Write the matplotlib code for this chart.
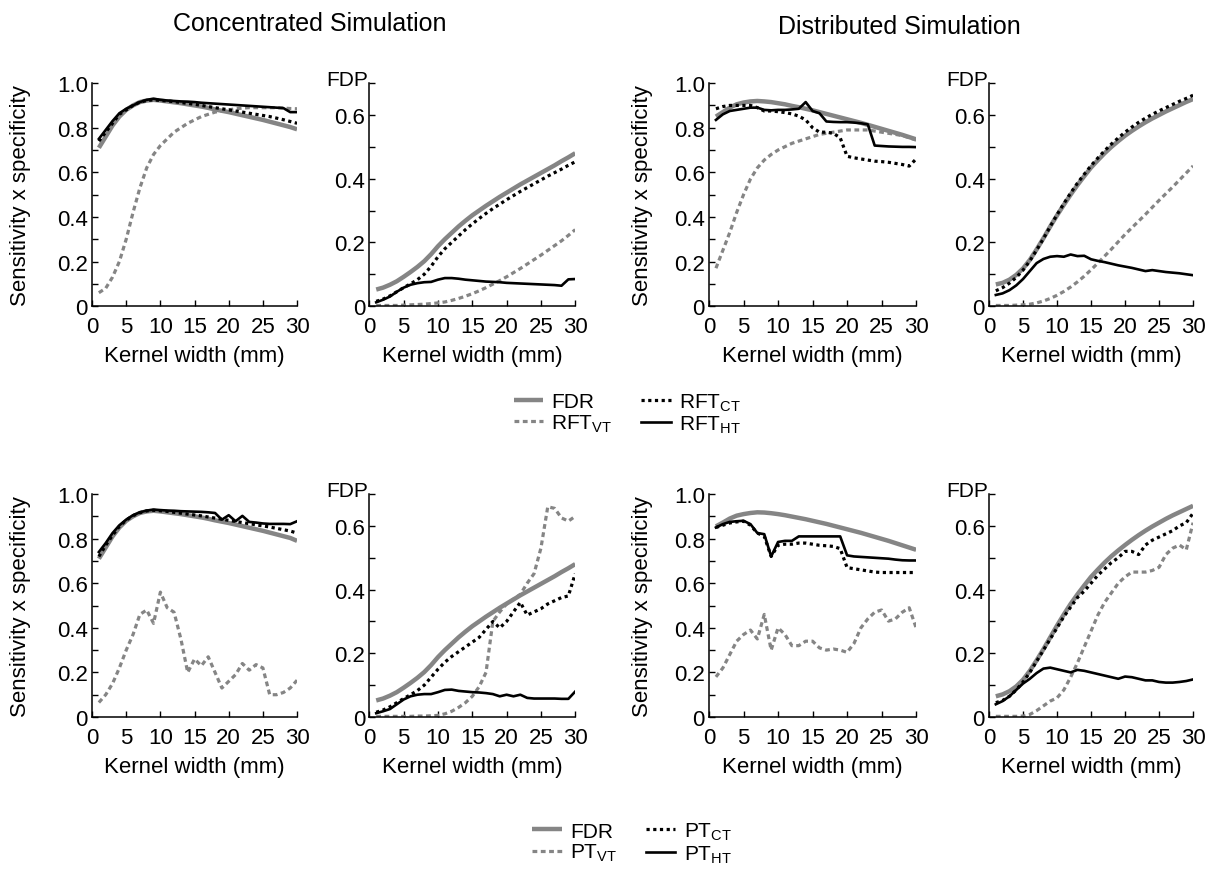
import matplotlib
matplotlib.use("Agg")
import matplotlib.pyplot as plt
from matplotlib.lines import Line2D
from matplotlib.ticker import MultipleLocator, FuncFormatter

plt.rcParams['font.family'] = ['Liberation Sans', 'DejaVu Sans']
plt.rcParams['mathtext.fontset'] = 'custom'
plt.rcParams['mathtext.rm'] = 'Liberation Sans'

# kernel widths (mm)
kernel = list(range(1, 31))

# --- Concentrated simulation, RFT thresholds ---
conc_rft_ss_fdr = [0.71, 0.76, 0.81, 0.85, 0.88, 0.90, 0.915, 0.922, 0.925, 0.922, 0.918, 0.914, 0.91, 0.905, 0.90,
                   0.895, 0.889, 0.882, 0.876, 0.87, 0.863, 0.856, 0.849, 0.842, 0.835, 0.827, 0.819, 0.811, 0.803, 0.793]
conc_rft_ss_vt = [0.06, 0.08, 0.13, 0.2, 0.3, 0.42, 0.53, 0.62, 0.68, 0.72, 0.75, 0.78, 0.80, 0.82, 0.835,
                  0.85, 0.86, 0.87, 0.875, 0.88, 0.885, 0.888, 0.89, 0.89, 0.89, 0.89, 0.89, 0.888, 0.886, 0.885]
conc_rft_ss_ct = [0.74, 0.78, 0.82, 0.86, 0.88, 0.90, 0.915, 0.922, 0.925, 0.922, 0.92, 0.917, 0.913, 0.909, 0.905,
                  0.90, 0.895, 0.89, 0.885, 0.88, 0.875, 0.87, 0.865, 0.86, 0.855, 0.85, 0.843, 0.836, 0.828, 0.82]
conc_rft_ss_ht = [0.75, 0.79, 0.83, 0.865, 0.885, 0.90, 0.915, 0.925, 0.93, 0.925, 0.922, 0.92, 0.918, 0.917, 0.915,
                  0.912, 0.91, 0.908, 0.906, 0.904, 0.902, 0.90, 0.898, 0.896, 0.894, 0.892, 0.89, 0.888, 0.87, 0.87]

conc_rft_fdp_fdr = [0.052, 0.058, 0.067, 0.078, 0.092, 0.107, 0.123, 0.141, 0.163, 0.188, 0.21, 0.23, 0.25, 0.268, 0.285,
                    0.30, 0.315, 0.329, 0.343, 0.356, 0.369, 0.382, 0.394, 0.406, 0.418, 0.43, 0.442, 0.455, 0.467, 0.48]
conc_rft_fdp_vt = [0.002, 0.002, 0.002, 0.002, 0.003, 0.004, 0.005, 0.006, 0.008, 0.01, 0.013, 0.018, 0.024, 0.031, 0.039,
                   0.048, 0.058, 0.069, 0.08, 0.092, 0.105, 0.118, 0.132, 0.146, 0.16, 0.175, 0.19, 0.205, 0.222, 0.24]
conc_rft_fdp_ct = [0.015, 0.022, 0.032, 0.045, 0.058, 0.07, 0.083, 0.1, 0.125, 0.155, 0.18, 0.2, 0.22, 0.24, 0.258,
                   0.275, 0.291, 0.306, 0.32, 0.334, 0.347, 0.36, 0.372, 0.384, 0.396, 0.408, 0.419, 0.43, 0.442, 0.453]
conc_rft_fdp_ht = [0.012, 0.02, 0.03, 0.045, 0.058, 0.067, 0.072, 0.075, 0.076, 0.083, 0.088, 0.088, 0.086, 0.083, 0.081,
                   0.079, 0.077, 0.076, 0.075, 0.073, 0.072, 0.071, 0.07, 0.069, 0.068, 0.067, 0.066, 0.064, 0.084, 0.085]

# --- Distributed simulation, RFT thresholds ---
dist_rft_ss_fdr = [0.85, 0.87, 0.89, 0.905, 0.913, 0.918, 0.92, 0.918, 0.915, 0.91, 0.905, 0.898, 0.892, 0.885, 0.878,
                   0.87, 0.862, 0.854, 0.846, 0.838, 0.83, 0.822, 0.813, 0.804, 0.795, 0.786, 0.777, 0.768, 0.758, 0.748]
dist_rft_ss_vt = [0.17, 0.25, 0.33, 0.42, 0.5, 0.57, 0.62, 0.655, 0.68, 0.70, 0.715, 0.73, 0.74, 0.75, 0.76,
                  0.77, 0.775, 0.78, 0.785, 0.79, 0.79, 0.79, 0.79, 0.785, 0.78, 0.775, 0.77, 0.765, 0.755, 0.745]
dist_rft_ss_ct = [0.885, 0.895, 0.9, 0.9, 0.9, 0.9, 0.89, 0.875, 0.875, 0.872, 0.868, 0.862, 0.852, 0.835, 0.8,
                  0.78, 0.78, 0.775, 0.755, 0.672, 0.665, 0.66, 0.655, 0.65, 0.648, 0.645, 0.64, 0.635, 0.628, 0.66]
dist_rft_ss_ht = [0.835, 0.86, 0.875, 0.88, 0.885, 0.89, 0.89, 0.88, 0.878, 0.88, 0.88, 0.882, 0.885, 0.915, 0.875,
                  0.865, 0.828, 0.826, 0.825, 0.825, 0.823, 0.82, 0.815, 0.72, 0.718, 0.716, 0.715, 0.714, 0.714, 0.713]

dist_rft_fdp_fdr = [0.068, 0.073, 0.083, 0.098, 0.118, 0.145, 0.178, 0.213, 0.25, 0.285, 0.318, 0.35, 0.38, 0.408, 0.435,
                    0.458, 0.48, 0.5, 0.518, 0.535, 0.55, 0.564, 0.577, 0.589, 0.6, 0.611, 0.621, 0.631, 0.641, 0.65]
dist_rft_fdp_vt = [0.002, 0.002, 0.002, 0.003, 0.004, 0.006, 0.01, 0.016, 0.024, 0.034, 0.046, 0.06, 0.076, 0.094, 0.114,
                   0.135, 0.157, 0.179, 0.202, 0.225, 0.246, 0.267, 0.288, 0.31, 0.332, 0.353, 0.374, 0.396, 0.418, 0.44]
dist_rft_fdp_ct = [0.048, 0.058, 0.072, 0.09, 0.113, 0.142, 0.176, 0.212, 0.25, 0.287, 0.322, 0.355, 0.386, 0.414, 0.441,
                   0.465, 0.488, 0.509, 0.528, 0.546, 0.562, 0.577, 0.59, 0.602, 0.613, 0.623, 0.633, 0.643, 0.652, 0.662]
dist_rft_fdp_ht = [0.035, 0.04, 0.05, 0.065, 0.085, 0.11, 0.135, 0.148, 0.155, 0.157, 0.155, 0.162, 0.157, 0.158, 0.147,
                   0.142, 0.138, 0.133, 0.128, 0.124, 0.12, 0.115, 0.11, 0.113, 0.11, 0.107, 0.105, 0.103, 0.1, 0.097]

# --- Concentrated simulation, PT thresholds ---
conc_pt_ss_fdr = [0.71, 0.76, 0.81, 0.85, 0.88, 0.90, 0.915, 0.922, 0.925, 0.922, 0.918, 0.914, 0.91, 0.905, 0.90,
                  0.895, 0.889, 0.882, 0.876, 0.87, 0.863, 0.856, 0.849, 0.842, 0.835, 0.827, 0.819, 0.811, 0.803, 0.79]
conc_pt_ss_vt = [0.065, 0.1, 0.15, 0.22, 0.3, 0.37, 0.46, 0.48, 0.42, 0.56, 0.49, 0.47, 0.35, 0.2, 0.26,
                 0.23, 0.27, 0.2, 0.13, 0.16, 0.19, 0.24, 0.21, 0.235, 0.22, 0.1, 0.1, 0.11, 0.13, 0.165]
conc_pt_ss_ct = [0.72, 0.77, 0.815, 0.855, 0.883, 0.903, 0.916, 0.924, 0.927, 0.925, 0.922, 0.918, 0.914, 0.91, 0.906,
                 0.902, 0.897, 0.892, 0.887, 0.882, 0.877, 0.872, 0.867, 0.862, 0.857, 0.852, 0.846, 0.84, 0.834, 0.825]
conc_pt_ss_ht = [0.74, 0.78, 0.825, 0.86, 0.885, 0.905, 0.918, 0.926, 0.93, 0.928, 0.926, 0.925, 0.923, 0.922, 0.921,
                 0.92, 0.918, 0.915, 0.885, 0.905, 0.878, 0.902, 0.875, 0.872, 0.868, 0.866, 0.866, 0.866, 0.865, 0.878]

conc_pt_fdp_fdr = [0.052, 0.058, 0.067, 0.078, 0.092, 0.107, 0.123, 0.141, 0.163, 0.188, 0.21, 0.23, 0.25, 0.268, 0.285,
                   0.30, 0.315, 0.329, 0.343, 0.356, 0.369, 0.382, 0.394, 0.406, 0.418, 0.43, 0.442, 0.455, 0.467, 0.48]
conc_pt_fdp_vt = [0.002, 0.002, 0.002, 0.002, 0.002, 0.002, 0.003, 0.003, 0.004, 0.005, 0.01, 0.018, 0.03, 0.045, 0.065,
                  0.095, 0.14, 0.3, 0.33, 0.355, 0.37, 0.385, 0.42, 0.45, 0.53, 0.66, 0.655, 0.625, 0.615, 0.63]
conc_pt_fdp_ct = [0.015, 0.022, 0.032, 0.045, 0.058, 0.07, 0.083, 0.1, 0.125, 0.15, 0.172, 0.19, 0.205, 0.22, 0.235,
                  0.25, 0.275, 0.3, 0.28, 0.3, 0.33, 0.36, 0.32, 0.33, 0.34, 0.355, 0.365, 0.375, 0.38, 0.45]
conc_pt_fdp_ht = [0.012, 0.018, 0.025, 0.04, 0.055, 0.065, 0.07, 0.072, 0.072, 0.078, 0.085, 0.086, 0.082, 0.08, 0.078,
                  0.077, 0.075, 0.072, 0.065, 0.07, 0.065, 0.07, 0.06, 0.058, 0.058, 0.058, 0.058, 0.057, 0.057, 0.08]

# --- Distributed simulation, PT thresholds ---
dist_pt_ss_fdr = [0.855, 0.872, 0.89, 0.903, 0.91, 0.915, 0.918, 0.917, 0.914, 0.91, 0.905, 0.899, 0.893, 0.887, 0.88,
                  0.873, 0.866, 0.858, 0.85, 0.842, 0.834, 0.826, 0.817, 0.808, 0.799, 0.79, 0.78, 0.77, 0.76, 0.75]
dist_pt_ss_vt = [0.18, 0.22, 0.28, 0.34, 0.37, 0.39, 0.35, 0.46, 0.3, 0.4, 0.37, 0.32, 0.32, 0.34, 0.34,
                 0.31, 0.3, 0.305, 0.3, 0.29, 0.33, 0.4, 0.44, 0.47, 0.48, 0.43, 0.44, 0.47, 0.49, 0.40]
dist_pt_ss_ct = [0.85, 0.86, 0.87, 0.875, 0.878, 0.86, 0.825, 0.81, 0.72, 0.77, 0.775, 0.775, 0.78, 0.78, 0.775,
                 0.77, 0.768, 0.765, 0.755, 0.67, 0.665, 0.66, 0.655, 0.65, 0.648, 0.648, 0.648, 0.648, 0.648, 0.648]
dist_pt_ss_ht = [0.85, 0.865, 0.875, 0.878, 0.88, 0.865, 0.825, 0.82, 0.72, 0.785, 0.79, 0.79, 0.81, 0.81, 0.81,
                 0.81, 0.81, 0.81, 0.81, 0.725, 0.72, 0.718, 0.716, 0.714, 0.712, 0.71, 0.706, 0.703, 0.702, 0.702]

dist_pt_fdp_fdr = [0.065, 0.071, 0.081, 0.096, 0.117, 0.145, 0.178, 0.213, 0.25, 0.287, 0.322, 0.355, 0.385, 0.413, 0.44,
                   0.463, 0.485, 0.505, 0.523, 0.54, 0.556, 0.571, 0.585, 0.598, 0.61, 0.622, 0.633, 0.643, 0.653, 0.663]
dist_pt_fdp_vt = [0.002, 0.002, 0.002, 0.002, 0.003, 0.008, 0.02, 0.035, 0.05, 0.06, 0.085, 0.125, 0.17, 0.22, 0.27,
                  0.32, 0.36, 0.39, 0.42, 0.44, 0.455, 0.455, 0.455, 0.46, 0.47, 0.51, 0.53, 0.54, 0.525, 0.61]
dist_pt_fdp_ct = [0.045, 0.052, 0.065, 0.085, 0.11, 0.14, 0.175, 0.21, 0.245, 0.28, 0.315, 0.345, 0.375, 0.395, 0.42,
                  0.445, 0.465, 0.485, 0.5, 0.52, 0.52, 0.51, 0.54, 0.555, 0.565, 0.575, 0.585, 0.6, 0.61, 0.64]
dist_pt_fdp_ht = [0.04, 0.05, 0.065, 0.085, 0.105, 0.12, 0.138, 0.152, 0.155, 0.15, 0.145, 0.14, 0.148, 0.145, 0.14,
                  0.135, 0.13, 0.125, 0.12, 0.127, 0.125, 0.12, 0.115, 0.115, 0.11, 0.108, 0.108, 0.11, 0.113, 0.118]

GRAY = '#858585'
STYLES = {
    'fdr': dict(color=GRAY, lw=3.2, solid_capstyle='butt'),
    'vt': dict(color=GRAY, lw=2.3, dashes=(1.5, 1.1)),
    'ct': dict(color='black', lw=2.3, dashes=(1.0, 1.1)),
    'ht': dict(color='black', lw=1.9),
}

FS = 16

fig = plt.figure(figsize=(12.11, 8.70), dpi=100)

lefts = [0.076, 0.305, 0.5855, 0.8167]
widths = [0.1693, 0.170, 0.171, 0.1685]
bottoms = [0.647, 0.1747]
height = 0.2563

panels = [
    (0, 0, False, conc_rft_ss_fdr, conc_rft_ss_vt, conc_rft_ss_ct, conc_rft_ss_ht),
    (0, 1, True, conc_rft_fdp_fdr, conc_rft_fdp_vt, conc_rft_fdp_ct, conc_rft_fdp_ht),
    (0, 2, False, dist_rft_ss_fdr, dist_rft_ss_vt, dist_rft_ss_ct, dist_rft_ss_ht),
    (0, 3, True, dist_rft_fdp_fdr, dist_rft_fdp_vt, dist_rft_fdp_ct, dist_rft_fdp_ht),
    (1, 0, False, conc_pt_ss_fdr, conc_pt_ss_vt, conc_pt_ss_ct, conc_pt_ss_ht),
    (1, 1, True, conc_pt_fdp_fdr, conc_pt_fdp_vt, conc_pt_fdp_ct, conc_pt_fdp_ht),
    (1, 2, False, dist_pt_ss_fdr, dist_pt_ss_vt, dist_pt_ss_ct, dist_pt_ss_ht),
    (1, 3, True, dist_pt_fdp_fdr, dist_pt_fdp_vt, dist_pt_fdp_ct, dist_pt_fdp_ht),
]

fmt = FuncFormatter(lambda v, p: '0' if abs(v) < 1e-9 else f'{v:.1f}')

for row, col, is_fdp, fdr, vt, ct, ht in panels:
    ax = fig.add_axes([lefts[col], bottoms[row], widths[col], height])
    ax.plot(kernel, fdr, **STYLES['fdr'])
    ax.plot(kernel, vt, **STYLES['vt'])
    ax.plot(kernel, ct, **STYLES['ct'])
    ax.plot(kernel, ht, **STYLES['ht'])

    ax.set_xlim(0, 30)
    ax.set_ylim(0, 0.7 if is_fdp else 1.0)
    ax.xaxis.set_major_locator(MultipleLocator(5))
    ax.yaxis.set_major_locator(MultipleLocator(0.2))
    ax.yaxis.set_minor_locator(MultipleLocator(0.1))
    ax.yaxis.set_major_formatter(fmt)
    for s in ['top', 'right']:
        ax.spines[s].set_visible(False)
    for s in ['left', 'bottom']:
        ax.spines[s].set_linewidth(1.1)
    ax.tick_params(axis='both', which='both', direction='in', width=1.0, labelsize=FS)
    ax.tick_params(axis='both', which='major', length=4)
    ax.tick_params(axis='y', which='minor', length=4)
    ax.tick_params(axis='x', pad=7)
    ax.tick_params(axis='y', pad=3)

    ax.set_xlabel('Kernel width (mm)', fontsize=FS, labelpad=6)
    if is_fdp:
        ax.text(-0.005, 0.99, 'FDP', transform=ax.transAxes, ha='right', va='baseline', fontsize=15)
    else:
        ax.set_ylabel('Sensitivity x specificity', fontsize=FS)
        ax.yaxis.set_label_coords(-0.30 if col == 0 else -0.27, 0.5)

fig.text(0.256, 0.972, 'Concentrated Simulation', ha='center', va='center', fontsize=18)
fig.text(0.743, 0.969, 'Distributed Simulation', ha='center', va='center', fontsize=18)


def make_handles(prefix):
    return [
        Line2D([], [], **STYLES['fdr']),
        Line2D([], [], **STYLES['vt']),
        Line2D([], [], **STYLES['ct']),
        Line2D([], [], **STYLES['ht']),
    ], ['FDR', prefix + r'$_\mathregular{VT}$', prefix + r'$_\mathregular{CT}$', prefix + r'$_\mathregular{HT}$']


for prefix, ypos, xpos in [('RFT', 0.524, 0.518), ('PT', 0.030, 0.522)]:
    h, l = make_handles(prefix)
    fig.legend(h, l, loc='center', bbox_to_anchor=(xpos, ypos), ncol=2, frameon=False,
               fontsize=15, handlelength=1.4, handletextpad=0.4, columnspacing=1.4, labelspacing=0.05)

plt.savefig('out.png', dpi=100)
